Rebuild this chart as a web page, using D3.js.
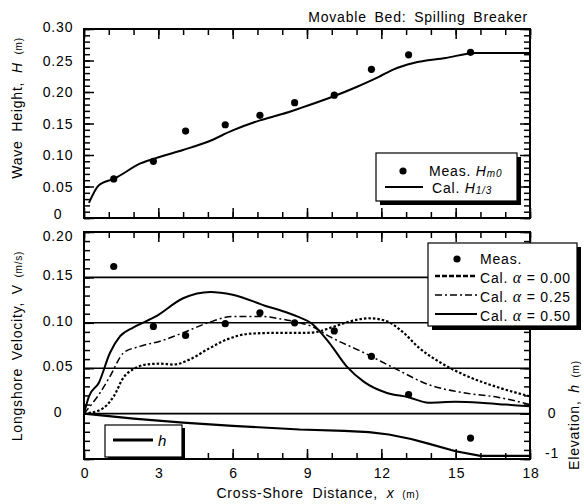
<!DOCTYPE html>
<html>
<head>
<meta charset="utf-8">
<script src="https://cdn.jsdelivr.net/npm/d3@7/dist/d3.min.js"></script>
<style>
  body { margin: 0; background: #fff; }
  text { font-family: "Liberation Sans", Arial, sans-serif; fill: #000; }
</style>
</head>
<body>
<script>
"use strict";

// ---- data ----

// wave height, measured (Hm0) and calculated (H1/3)
const measX = [1.2, 2.8, 4.1, 5.7, 7.1, 8.5, 10.1, 11.6, 13.1, 15.6];
const measH = [0.062, 0.090, 0.138, 0.148, 0.163, 0.183, 0.195, 0.236, 0.259, 0.263];
const calHX = [0.2, 0.6, 1.25, 2.3, 2.9, 4.0, 5.0, 6.0, 7.1, 8.0, 8.7, 10.0, 11.0, 11.9, 12.5, 13.3, 14.6, 15.8, 18.0];
const calH  = [0.024, 0.052, 0.063, 0.087, 0.095, 0.108, 0.121, 0.139, 0.155, 0.165, 0.174, 0.192, 0.208, 0.224, 0.236, 0.246, 0.254, 0.262, 0.262];

// longshore velocity, measured
const measV = [0.162, 0.096, 0.086, 0.099, 0.111, 0.100, 0.091, 0.063, 0.021, -0.027];

// calculated velocity for alpha = 0.00, 0.25, 0.50
const a00X = [0, 0.65, 1.2, 1.6, 2.0, 2.5, 3.1, 3.6, 4.3, 5.0, 5.8, 6.7, 8.0, 9.0, 9.4, 10.0, 10.8, 11.5, 12.2, 12.9, 13.5, 14.4, 15.4, 16.7, 18.0];
const a00V = [0, 0.004, 0.019, 0.040, 0.049, 0.054, 0.055, 0.054, 0.060, 0.071, 0.082, 0.088, 0.089, 0.089, 0.090, 0.095, 0.102, 0.105, 0.102, 0.089, 0.073, 0.056, 0.042, 0.029, 0.019];
const a25X = [0, 0.65, 1.05, 1.6, 2.25, 3.1, 4.0, 5.0, 6.0, 7.1, 8.0, 8.7, 9.2, 9.9, 11.3, 12.6, 13.9, 15.3, 16.7, 18.0];
const a25V = [0, 0.023, 0.041, 0.067, 0.074, 0.080, 0.089, 0.100, 0.107, 0.107, 0.104, 0.100, 0.096, 0.085, 0.067, 0.049, 0.032, 0.023, 0.018, 0.010];
const a50X = [0, 0.2, 0.6, 1.05, 1.45, 2.0, 2.9, 4.0, 5.1, 6.0, 7.4, 8.0, 8.6, 9.2, 9.9, 10.6, 11.3, 12.2, 13.1, 13.9, 15.0, 16.0, 17.0, 18.0];
const a50V = [0, 0.019, 0.034, 0.067, 0.085, 0.095, 0.107, 0.127, 0.134, 0.131, 0.118, 0.113, 0.107, 0.099, 0.078, 0.052, 0.035, 0.023, 0.018, 0.012, 0.013, 0.012, 0.010, 0.008];

// bed elevation h
const bedX = [0, 2, 4, 6, 8.7, 10.5, 11.5, 12.3, 13.2, 13.9, 15.0, 16.0, 18.0];
const bedH = [0, -0.11, -0.20, -0.27, -0.35, -0.38, -0.41, -0.46, -0.56, -0.66, -0.83, -0.93, -0.93];

// tick labels
const xLabels = [0, 3, 6, 9, 12, 15, 18];
const hLabels = [0, 0.05, 0.10, 0.15, 0.20, 0.25, 0.30];
const vLabels = [0, 0.05, 0.10, 0.15, 0.20];
const eLabels = [0, -1];
const vGrid = [0, 0.05, 0.10, 0.15];

// ---- layout ----

const W = 584, H = 504;
const L = 84, R = 530;

const x  = d3.scaleLinear().domain([0, 18]).range([L, R]);
const yH = d3.scaleLinear().domain([0, 0.30]).range([218, 29]);
const yV = d3.scaleLinear().domain([-0.05, 0.20]).range([459, 232]);
const yE = d3.scaleLinear().domain([-1, 4]).range([459, 232]);

const svg = d3.select("body").append("svg")
    .attr("width", W)
    .attr("height", H);

svg.append("rect").attr("width", W).attr("height", H).attr("fill", "#fff");

const zip = (xs, ys) => xs.map((d, i) => [d, ys[i]]);
const fmt = (d) => d === 0 ? "0" : d3.format(".2f")(d);
const lbl = (sel, size) => sel.style("font-size", size + "px").style("letter-spacing", "0.8px");

// inward ticks on all four sides of a panel
const frameTicks = (yScale, yMinor, yMajor, top, bottom) => {
    const g = svg.append("g").attr("stroke-width", 1.5);
    const add = (axis, tx, ty, vals, len) => {
	g.append("g")
	    .attr("transform", "translate(" + tx + "," + ty + ")")
	    .call(axis.tickValues(vals).tickSize(-len).tickFormat(""))
	    .call((a) => a.select(".domain").remove());
    };
    const xMinor = d3.range(0, 19);
    const xMajor = d3.range(0, 19, 3);
    add(d3.axisBottom(x), 0, bottom, xMinor, 6);
    add(d3.axisBottom(x), 0, bottom, xMajor, 10);
    add(d3.axisTop(x), 0, top, xMinor, 6);
    add(d3.axisTop(x), 0, top, xMajor, 10);
    add(d3.axisLeft(yScale), L, 0, yMinor, 6);
    add(d3.axisLeft(yScale), L, 0, yMajor, 10);
    add(d3.axisRight(yScale), R, 0, yMinor, 6);
    add(d3.axisRight(yScale), R, 0, yMajor, 10);
    g.selectAll("line").attr("stroke", "#000");
    svg.append("rect")
	.attr("x", L).attr("y", top)
	.attr("width", R - L).attr("height", bottom - top)
	.attr("fill", "none").attr("stroke", "#000").attr("stroke-width", 2);
};

const drawLine = (pts, xs, ys, width, dash, curve) => {
    svg.append("path")
	.datum(pts)
	.attr("d", d3.line().x((d) => xs(d[0])).y((d) => ys(d[1])).curve(curve))
	.attr("fill", "none")
	.attr("stroke", "#000")
	.attr("stroke-width", width)
	.attr("stroke-dasharray", dash);
};

const drawDots = (pts, ys) => {
    svg.append("g").selectAll("circle")
	.data(pts)
	.enter()
	.append("circle")
	.attr("cx", (d) => x(d[0]))
	.attr("cy", (d) => ys(d[1]))
	.attr("r", 3.6)
	.attr("fill", "#000");
};

// legend box with a solid drop shadow
const legendBox = (bx, by, bw, bh, off) => {
    svg.append("rect").attr("x", bx + off).attr("y", by + off)
	.attr("width", bw).attr("height", bh).attr("fill", "#000");
    svg.append("rect").attr("x", bx).attr("y", by)
	.attr("width", bw).attr("height", bh)
	.attr("fill", "#fff").attr("stroke", "#000").attr("stroke-width", 1.2);
};

// ---- top panel: wave height ----

drawLine(zip(calHX, calH), x, yH, 2, null, d3.curveMonotoneX);
drawDots(zip(measX, measH), yH);
frameTicks(yH, d3.range(0, 31).map((i) => i / 100), d3.range(0, 7).map((i) => i * 0.05), 29, 218);

svg.append("g").selectAll("text")
    .data(hLabels)
    .enter()
    .append("text")
    .attr("x", 58)
    .attr("y", (d) => yH(d) + 5 - (d === 0 ? 4 : 0) - (d === 0.30 ? 2 : 0))
    .attr("text-anchor", "middle")
    .call(lbl, 14)
    .text(fmt);

lbl(svg.append("text")
    .attr("x", 528).attr("y", 22)
    .attr("text-anchor", "end")
    .style("word-spacing", "3px")
    .text("Movable Bed: Spilling Breaker"), 14);

const hTitle = svg.append("text")
    .attr("transform", "translate(22,108) rotate(-90)")
    .attr("text-anchor", "middle")
    .style("word-spacing", "4px")
    .call(lbl, 14);
hTitle.append("tspan").text("Wave Height,  ");
hTitle.append("tspan").style("font-style", "italic").text("H");
hTitle.append("tspan").style("font-size", "10px").text(" (m)");

legendBox(376, 153, 141, 48, 4);
svg.append("circle").attr("cx", 403).attr("cy", 171).attr("r", 3.6).attr("fill", "#000");
svg.append("line").attr("x1", 385).attr("x2", 423).attr("y1", 187).attr("y2", 187)
    .attr("stroke", "#000").attr("stroke-width", 2);
const lm = svg.append("text").attr("x", 429).attr("y", 176).call(lbl, 14);
lm.append("tspan").text("Meas.  ");
lm.append("tspan").style("font-style", "italic").text("H");
lm.append("tspan").style("font-style", "italic").style("font-size", "10px").attr("dy", 1).text("m0");
const lc = svg.append("text").attr("x", 432).attr("y", 193).call(lbl, 14);
lc.append("tspan").text("Cal.  ");
lc.append("tspan").style("font-style", "italic").text("H");
lc.append("tspan").style("font-style", "italic").style("font-size", "10px").attr("dy", 1).text("1/3");

// ---- bottom panel: longshore velocity and bed elevation ----

svg.append("g").selectAll("line")
    .data(vGrid)
    .enter()
    .append("line")
    .attr("x1", L).attr("x2", R)
    .attr("y1", yV).attr("y2", yV)
    .attr("stroke", "#000").attr("stroke-width", 1.6);

drawLine(zip(a00X, a00V), x, yV, 2.2, "2.5,2", d3.curveMonotoneX);
drawLine(zip(a25X, a25V), x, yV, 1.5, "7,3,2,3", d3.curveMonotoneX);
drawLine(zip(a50X, a50V), x, yV, 2, null, d3.curveMonotoneX);
drawLine(zip(bedX, bedH), x, yE, 2.2, null, d3.curveLinear);
drawDots(zip(measX, measV), yV);

frameTicks(yV, d3.range(-5, 21).map((i) => i / 100), d3.range(-1, 5).map((i) => i * 0.05), 232, 459);

svg.append("g").selectAll("text")
    .data(vLabels)
    .enter()
    .append("text")
    .attr("x", 58)
    .attr("y", (d) => yV(d) + 3 + (d === 0.20 ? 6 : 0))
    .attr("text-anchor", "middle")
    .call(lbl, 14)
    .text(fmt);

svg.append("g").selectAll("text")
    .data(eLabels)
    .enter()
    .append("text")
    .attr("x", 552)
    .attr("y", (d) => yE(d) + 4 - (d === -1 ? 5 : 0))
    .attr("text-anchor", "middle")
    .call(lbl, 14)
    .text((d) => d);

svg.append("g").selectAll("text")
    .data(xLabels)
    .enter()
    .append("text")
    .attr("x", (d) => x(d) + 1)
    .attr("y", 478)
    .attr("text-anchor", "middle")
    .call(lbl, 14)
    .text((d) => d);

const vTitle = svg.append("text")
    .attr("transform", "translate(22,346) rotate(-90)")
    .attr("text-anchor", "middle")
    .style("word-spacing", "3px")
    .call(lbl, 14);
vTitle.append("tspan").text("Longshore Velocity,  ");
vTitle.append("tspan").text("V");
vTitle.append("tspan").style("font-size", "10px").text(" (m/s)");

const eTitle = svg.append("text")
    .attr("transform", "translate(579,415) rotate(-90)")
    .attr("text-anchor", "middle")
    .style("word-spacing", "3px")
    .call(lbl, 14);
eTitle.append("tspan").text("Elevation,  ");
eTitle.append("tspan").style("font-style", "italic").text("h");
eTitle.append("tspan").style("font-size", "10px").text(" (m)");

const xTitle = svg.append("text")
    .attr("x", 318).attr("y", 498)
    .attr("text-anchor", "middle")
    .style("word-spacing", "4px")
    .call(lbl, 14);
xTitle.append("tspan").text("Cross-Shore Distance,  ");
xTitle.append("tspan").style("font-style", "italic").text("x");
xTitle.append("tspan").style("font-size", "10px").text(" (m)");

// velocity legend
const vLegend = [
    {name: "Meas.", kind: "dot"},
    {name: "0.00", kind: "line", dash: "5,2", width: 2.5},
    {name: "0.25", kind: "line", dash: "7,3,2,3", width: 1.5},
    {name: "0.50", kind: "line", dash: null, width: 2}
];
legendBox(428, 243, 149, 83, 4);
vLegend.forEach((d, i) => {
    const cy = 259 + i * 19;
    if (d.kind === "dot") {
	svg.append("circle").attr("cx", 457).attr("cy", cy).attr("r", 3.6).attr("fill", "#000");
	svg.append("text").attr("x", 480).attr("y", cy + 5).call(lbl, 14).text(d.name);
    } else {
	svg.append("line").attr("x1", 435).attr("x2", 477).attr("y1", cy - 2).attr("y2", cy - 2)
	    .attr("stroke", "#000").attr("stroke-width", d.width).attr("stroke-dasharray", d.dash);
	const t = svg.append("text").attr("x", 480).attr("y", cy + 5).call(lbl, 14);
	t.append("tspan").text("Cal. ");
	t.append("tspan").style("font-family", "'Liberation Serif', serif").style("font-style", "italic")
	    .style("font-size", "16px").text("\u03b1");
	t.append("tspan").text(" = " + d.name);
    }
});

// bed elevation legend
legendBox(105, 425, 77, 32, 3);
svg.append("line").attr("x1", 113).attr("x2", 153).attr("y1", 440).attr("y2", 440)
    .attr("stroke", "#000").attr("stroke-width", 3);
svg.append("text").attr("x", 158).attr("y", 446).style("font-style", "italic").call(lbl, 15).text("h");
</script>
</body>
</html>
